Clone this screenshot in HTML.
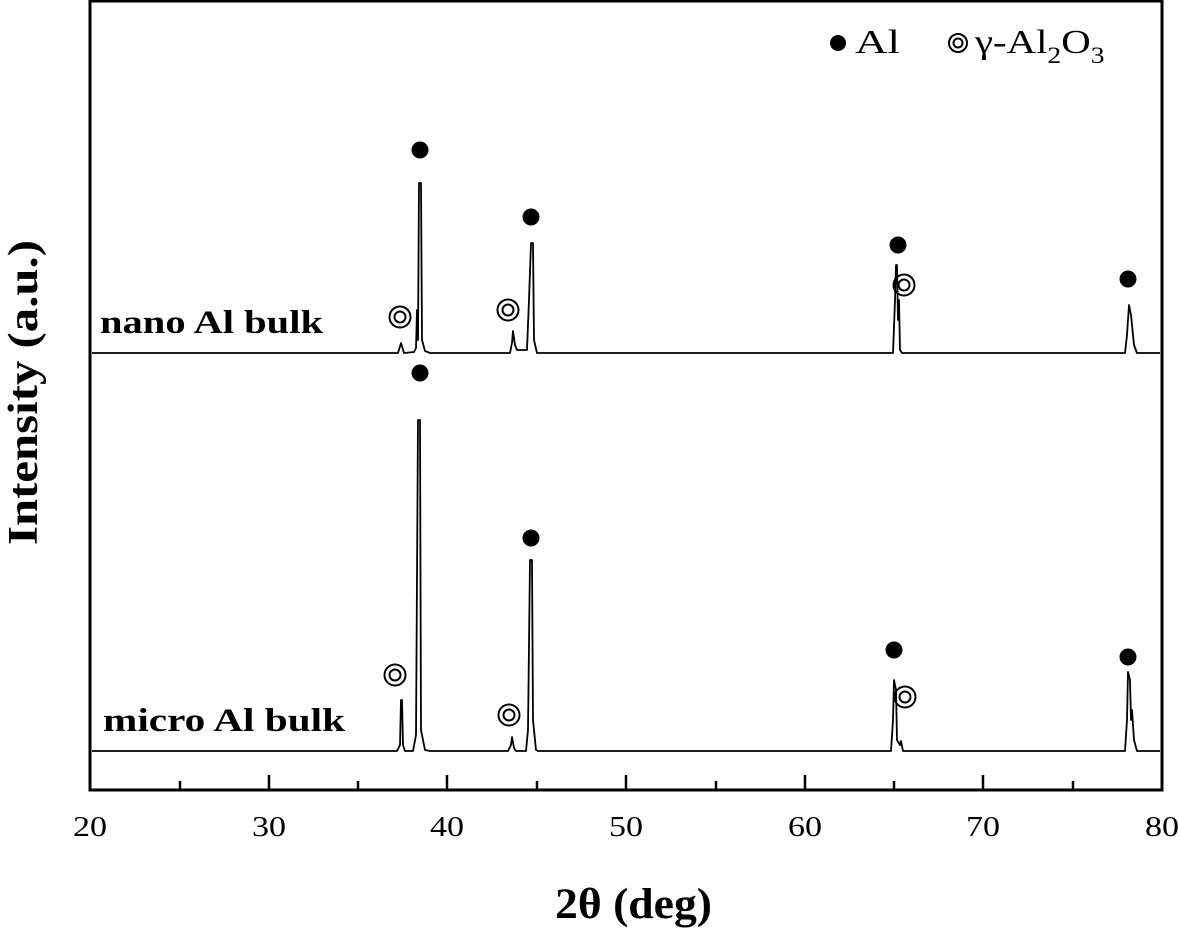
<!DOCTYPE html>
<html><head><meta charset="utf-8"><style>
html,body{margin:0;padding:0;background:#fff;}
svg{display:block;}
text{font-family:"Liberation Serif",serif;fill:#000;}
</style></head><body>
<svg width="1179" height="929" viewBox="0 0 1179 929" xmlns="http://www.w3.org/2000/svg">
<rect x="90" y="1" width="1072" height="789" fill="none" stroke="#000" stroke-width="3"/>
<g stroke="#000" stroke-width="2.5">
<line x1="269" y1="790" x2="269" y2="775"/><line x1="447" y1="790" x2="447" y2="775"/>
<line x1="626" y1="790" x2="626" y2="775"/><line x1="805" y1="790" x2="805" y2="775"/>
<line x1="983" y1="790" x2="983" y2="775"/>
<line x1="180" y1="790" x2="180" y2="781"/><line x1="358" y1="790" x2="358" y2="781"/>
<line x1="537" y1="790" x2="537" y2="781"/><line x1="716" y1="790" x2="716" y2="781"/>
<line x1="894" y1="790" x2="894" y2="781"/><line x1="1073" y1="790" x2="1073" y2="781"/>
</g>
<g font-size="28">
<text x="73" y="836" textLength="34" lengthAdjust="spacingAndGlyphs">20</text>
<text x="252" y="836" textLength="34" lengthAdjust="spacingAndGlyphs">30</text>
<text x="430" y="836" textLength="34" lengthAdjust="spacingAndGlyphs">40</text>
<text x="609" y="836" textLength="34" lengthAdjust="spacingAndGlyphs">50</text>
<text x="788" y="836" textLength="34" lengthAdjust="spacingAndGlyphs">60</text>
<text x="966" y="836" textLength="34" lengthAdjust="spacingAndGlyphs">70</text>
<text x="1145" y="836" textLength="34" lengthAdjust="spacingAndGlyphs">80</text>
</g>
<text x="555" y="918" font-size="43" font-weight="bold" textLength="157" lengthAdjust="spacingAndGlyphs">2θ (deg)</text>
<text transform="translate(37,545) rotate(-90)" font-size="42" font-weight="bold" textLength="305" lengthAdjust="spacingAndGlyphs">Intensity (a.u.)</text>
<text x="100" y="333" font-size="33" font-weight="bold" textLength="223" lengthAdjust="spacingAndGlyphs">nano Al bulk</text>
<text x="103" y="731" font-size="33" font-weight="bold" textLength="242" lengthAdjust="spacingAndGlyphs">micro Al bulk</text>
<g fill="none" stroke="#000" stroke-width="1.8" stroke-linejoin="round">
<path d="M92 353 L398 353 L401 343 L404 353 L414 352 L416 348 L417 310 L418 340 L419 183 L421 183 L422 340 L425 351 L430 353 L510 353 L512 343 L513 331 L515 345 L517 350 L527 350 L529 300 L531 243 L533 243 L534 340 L537 353 L893 353 L895 300 L896 265 L897 265 L898 320 L899 300 L900 350 L902 353 L1125 353 L1127 335 L1129 305 L1131 315 L1132 325 L1134 345 L1137 353 L1160 353"/>
<path d="M92 751 L397 751 L400 745 L401 700 L402 700 L403 745 L405 751 L413 751 L416 735 L418 420 L420 420 L421 730 L425 750 L430 751 L508 751 L511 745 L512 737 L514 748 L516 751 L526 751 L528 730 L530 560 L532 560 L533 720 L536 750 L538 751 L891 751 L893 720 L894 680 L896 690 L897 740 L900 745 L901 741 L903 751 L1125 751 L1127 720 L1128 672 L1130 680 L1131 720 L1132 710 L1134 740 L1137 751 L1160 751"/>
</g>
<g fill="#000">
<circle cx="420" cy="150" r="8.5"/><circle cx="531" cy="217" r="8.5"/><circle cx="898" cy="245" r="8.5"/><circle cx="1128" cy="279" r="8.5"/>
<circle cx="420" cy="373" r="8.5"/><circle cx="531" cy="538" r="8.5"/><circle cx="894" cy="650" r="8.5"/><circle cx="1128" cy="657" r="8.5"/>
<circle cx="838" cy="43" r="8"/>
</g>
<g fill="none" stroke="#000" stroke-width="2">
<circle cx="400" cy="317" r="10.5"/><circle cx="400" cy="317" r="5.5"/>
<circle cx="508" cy="310" r="10.5"/><circle cx="508" cy="310" r="5.5"/>
<circle cx="904" cy="285" r="10.5"/><circle cx="904" cy="285" r="5.5"/>
<circle cx="395" cy="675" r="10.5"/><circle cx="395" cy="675" r="5.5"/>
<circle cx="509" cy="715" r="10.5"/><circle cx="509" cy="715" r="5.5"/>
<circle cx="905" cy="697" r="10.5"/><circle cx="905" cy="697" r="5.5"/>
<circle cx="958" cy="43" r="9"/><circle cx="958" cy="43" r="4.5"/>
</g>
<text x="855" y="53" font-size="34" textLength="45" lengthAdjust="spacingAndGlyphs">Al</text>
<g transform="translate(975,53) scale(1.2,1)">
<text x="0" y="0" font-size="34">γ-Al<tspan font-size="23" dy="10">2</tspan><tspan dy="-10">O</tspan><tspan font-size="23" dy="10">3</tspan></text>
</g>
</svg>
</body></html>
